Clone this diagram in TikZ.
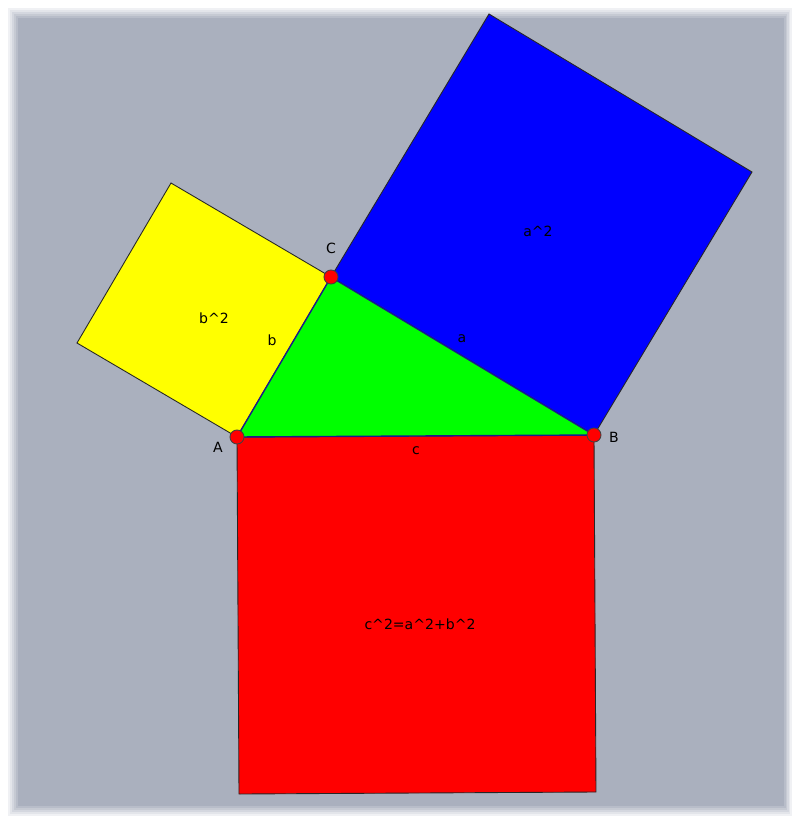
\documentclass[tikz,border=0pt]{standalone}
\usepackage{fontspec}
\setsansfont{DejaVu Sans}
\usetikzlibrary{calc}
\definecolor{panel}{HTML}{AAB0BE}
\definecolor{sqred}{HTML}{FF0000}
\definecolor{sqblue}{HTML}{0000FF}
\definecolor{sqyellow}{HTML}{FFFF00}
\definecolor{trigreen}{HTML}{00FF00}
\definecolor{edgeblue}{HTML}{1A1A8C}
\tikzset{square/.style={draw=black!85,line width=0.5pt},
         side/.style={draw=edgeblue,line width=0.8pt},
         vertex/.style={circle,draw=black!75,fill=red,line width=0.5pt,minimum size=8pt,inner sep=0pt},
         lbl/.style={font=\sffamily\fontsize{8}{9.5}\selectfont,inner sep=0pt,text=black}}

\begin{document}
\begin{tikzpicture}[x=0.02cm,y=-0.02cm]
    % Background panel
    \useasboundingbox (0,0) rectangle (795,823);
    \fill[white] (0,0) rectangle (795,823);
    \foreach \k in {0,...,6}
        \fill[panel!\the\numexpr\k*100/6\relax!white] (6+2*\k,6+2*\k) rectangle (793-1.5*\k,818-2*\k);
    % Triangle corners
    \coordinate (A) at (237,437);
    \coordinate (B) at (594,435);
    \coordinate (C) at (331,277);
    % Squares on the sides
    \coordinate (B2) at ($(B)!1!-90:(C)$);
    \coordinate (C2) at ($(C)!1!90:(B)$);
    \coordinate (C3) at ($(C)!1!-90:(A)$);
    \coordinate (A3) at ($(A)!1!90:(C)$);
    \coordinate (A4) at ($(A)!1!-90:(B)$);
    \coordinate (B4) at ($(B)!1!90:(A)$);
    \filldraw[square,fill=sqred] (A) -- (B) -- (B4) -- (A4) -- cycle;
    \filldraw[square,fill=sqblue] (C) -- (B) -- (B2) -- (C2) -- cycle;
    \filldraw[square,fill=sqyellow] (A) -- (C) -- (C3) -- (A3) -- cycle;
    % Triangle
    \fill[trigreen] (A) -- (B) -- (C) -- cycle;
    \draw[side] (A) -- (B);
    \draw[side] (B) -- (C);
    \draw[side] (C) -- (A);
    % Vertices
    \node (ptA) at (A) [vertex]{};
    \node (ptB) at (B) [vertex]{};
    \node (ptC) at (C) [vertex]{};
    \node (labA) at (218,447) [lbl]{A};
    \node (labB) at (614,437) [lbl]{B};
    \node (labC) at (331,248) [lbl]{C};
    % Side and area labels
    \node (laba) at (462,339) [lbl]{a};
    \node (labb) at (272,340) [lbl]{b};
    \node (labc) at (416,451) [lbl]{c};
    \node (areaa) at (538,231) [lbl]{a\^{}2};
    \node (areab) at (214,318) [lbl]{b\^{}2};
    \node (areac) at (420,624) [lbl]{c\^{}2=a\^{}2+b\^{}2};
\end{tikzpicture}
\end{document}
